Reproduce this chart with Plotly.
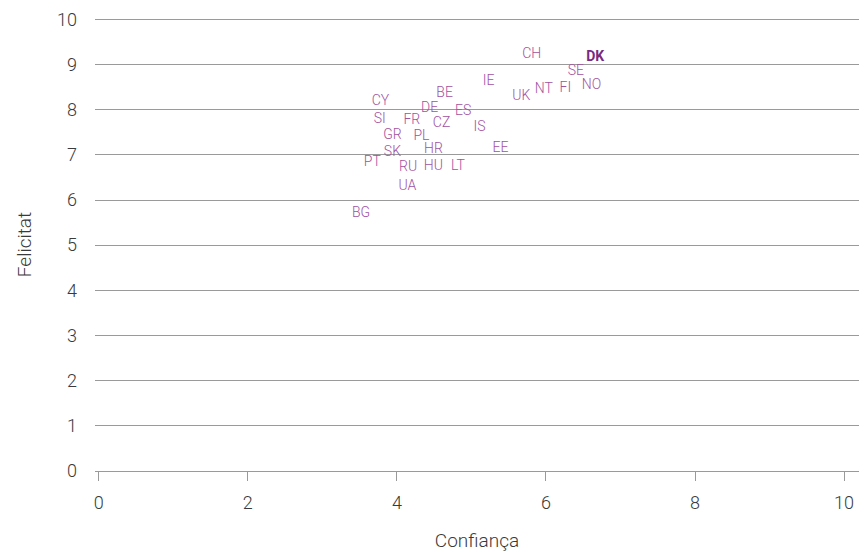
import plotly.graph_objects as go

countries = ["CH", "DK", "SE", "IE", "NO", "FI", "NT", "UK", "BE", "CY", "DE", "ES", "SI", "FR",
             "CZ", "IS", "GR", "PL", "EE", "HR", "SK", "PT", "RU", "HU", "LT", "UA", "BG"]
confianca = [5.81, 6.66, 6.40, 5.23, 6.61, 6.26, 5.97, 5.67, 4.64, 3.78, 4.44, 4.89, 3.77, 4.20,
             4.60, 5.11, 3.94, 4.33, 5.39, 4.49, 3.94, 3.67, 4.15, 4.49, 4.82, 4.14, 3.52]
felicitat = [9.22, 9.16, 8.85, 8.62, 8.54, 8.48, 8.45, 8.30, 8.36, 8.19, 8.02, 7.97, 7.79, 7.75,
             7.70, 7.60, 7.42, 7.40, 7.15, 7.11, 7.06, 6.83, 6.73, 6.75, 6.75, 6.29, 5.70]
highlight = "DK"

x_ticks = [0, 2, 4, 6, 8, 10]
y_ticks = [0, 1, 2, 3, 4, 5, 6, 7, 8, 9, 10]

FONT = "Roboto, 'Open Sans', sans-serif"
GRID = "#9a9a9a"
TXT = "#3a3a3a"

labels = [f"<b>{c}</b>" if c == highlight else c for c in countries]
colors = ["#7b2a7f" if c == highlight else "#a2529f" for c in countries]

fig = go.Figure()
fig.add_trace(go.Scatter(
    x=confianca, y=felicitat, mode="text", text=labels,
    textposition="middle center",
    textfont=dict(family=FONT, size=14, color=colors, weight=300),
    hoverinfo="text", showlegend=False,
))

fig.update_layout(
    width=859, height=544,
    margin=dict(l=87, r=8, t=10, b=81),
    paper_bgcolor="white", plot_bgcolor="white",
    font=dict(family=FONT, color=TXT),
    xaxis=dict(
        range=[-0.05, 10.2], tickvals=x_ticks, showgrid=False, zeroline=False,
        showline=True, linecolor=GRID, linewidth=1, automargin=False,
        ticks="outside", ticklen=9, tickcolor=GRID, tickwidth=1, ticklabelstandoff=6,
        tickfont=dict(size=18, color=TXT, weight=300),
        title=dict(text="Confiança", font=dict(size=19, color=TXT, weight=300), standoff=23),
    ),
    yaxis=dict(
        range=[0, 10.03], tickvals=y_ticks, showgrid=True, gridcolor=GRID, gridwidth=1,
        zeroline=False, showline=False, ticks="", ticklabelstandoff=17, automargin=False,
        tickfont=dict(size=18, color=TXT, weight=300),
        title=dict(text="Felicitat", font=dict(size=19, color=TXT, weight=300), standoff=20),
    ),
)

fig.write_html("out.html")
